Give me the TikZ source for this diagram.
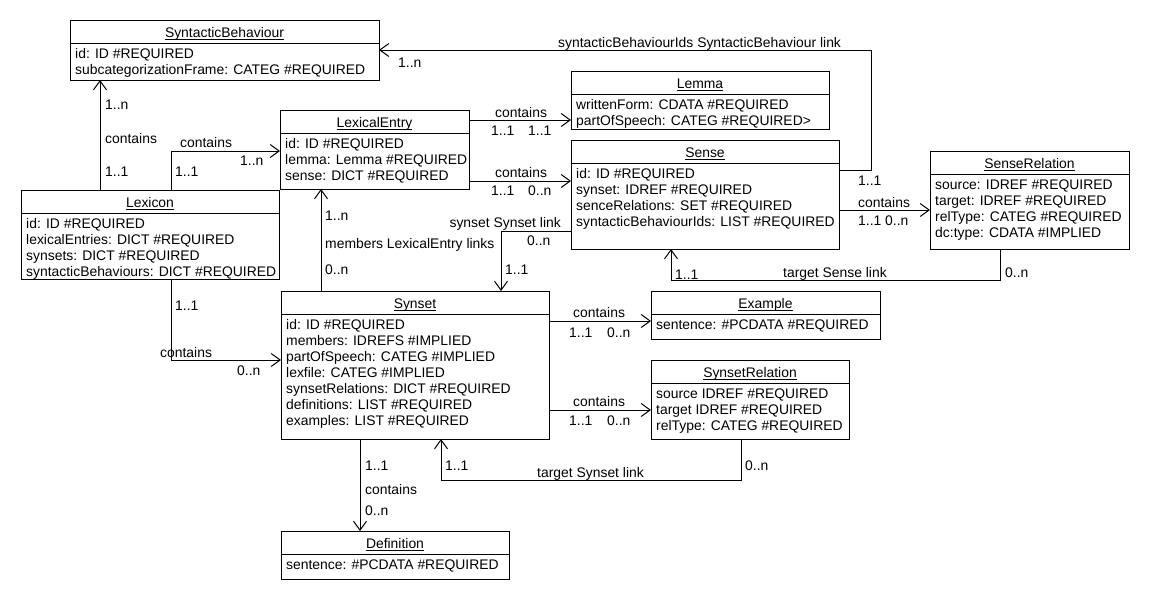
\documentclass[tikz,border=0pt]{standalone}
\usepackage{fontspec}
\setmainfont{Liberation Sans}
\usetikzlibrary{arrows.meta}
\newcommand{\umlul}[1]{\setbox0\hbox{#1}\rlap{\rule[-2.2pt]{\wd0}{0.9pt}}\box0}
\newcommand{\umlfont}{\fontsize{13.9}{16}\selectfont}
\newcommand{\umlclass}[7]{%
  \node[classbox, minimum width={#4-#2}, minimum height={#5-#3}, anchor=north west] (#1) at (#2,#3) {};
  \node[titletext] (#1-title) at ({(#2+#4)/2},{#3+17.5}) {\umlul{#6}};
  \draw[sepline] ({#2},{#3+23}) -- ({#4},{#3+23});
  \node[attrtext] (#1-attrs) at ({#2+5},{#3+26.8}) {\strut #7};
}
\begin{document}
\begin{tikzpicture}[x=1pt,y=-1pt,
  classbox/.style={draw, line width=1pt, fill=white, inner sep=0, outer sep=0},
  titletext/.style={anchor=base, inner sep=0, font=\umlfont},
  attrtext/.style={anchor=north west, inner sep=0, align=left, font=\umlfont},
  sepline/.style={line width=1pt},
  assoc/.style={line width=1pt, -{Straight Barb[length=9pt,width=13pt,line width=1pt]}},
  lbl/.style={anchor=base west, inner sep=0, font=\umlfont},
  lble/.style={anchor=base east, inner sep=0, font=\umlfont}]
\fill[white] (0,0) rectangle (1150,600);
\useasboundingbox (0,0) rectangle (1150,600);

% classes
\umlclass{sb}{70}{20}{379}{80}{SyntacticBehaviour}{id: ID \#REQUIRED\\subcategorizationFrame: CATEG \#REQUIRED}
\umlclass{lexicon}{21}{190}{279}{279}{Lexicon}{id: ID \#REQUIRED\\lexicalEntries: DICT \#REQUIRED\\synsets: DICT \#REQUIRED\\syntacticBehaviours: DICT \#REQUIRED}
\umlclass{le}{280}{110}{469}{189}{LexicalEntry}{id: ID \#REQUIRED\\lemma: Lemma \#REQUIRED\\sense: DICT \#REQUIRED}
\umlclass{lemma}{571}{71}{829}{129}{Lemma}{writtenForm: CDATA \#REQUIRED\\partOfSpeech: CATEG \#REQUIRED>}
\umlclass{sense}{571}{140}{839}{249}{Sense}{id: ID \#REQUIRED\\synset: IDREF \#REQUIRED\\senceRelations: SET \#REQUIRED\\syntacticBehaviourIds: LIST \#REQUIRED}
\umlclass{senserel}{930}{151}{1129}{249}{SenseRelation}{source: IDREF \#REQUIRED\\target: IDREF \#REQUIRED\\relType: CATEG \#REQUIRED\\dc:type: CDATA \#IMPLIED}
\umlclass{synset}{281}{291}{549}{439}{Synset}{id: ID \#REQUIRED\\members: IDREFS \#IMPLIED\\partOfSpeech: CATEG \#IMPLIED\\lexfile: CATEG \#IMPLIED\\synsetRelations: DICT \#REQUIRED\\definitions: LIST \#REQUIRED\\examples: LIST \#REQUIRED}
\umlclass{example}{651}{291}{880}{339}{Example}{sentence: \#PCDATA \#REQUIRED}
\umlclass{synrel}{651}{360}{849}{439}{SynsetRelation}{source IDREF \#REQUIRED\\target IDREF \#REQUIRED\\relType: CATEG \#REQUIRED}
\umlclass{def}{281}{531}{509}{579}{Definition}{sentence: \#PCDATA \#REQUIRED}

% connectors
\draw[assoc] (lexicon.north -| 100,0) -- (sb.south -| 100,0);
\draw[assoc] (lexicon.north -| 171,0) |- (le.west |- 0,151);
\draw[assoc] (le.east |- 0,120) -- (lemma.west |- 0,120);
\draw[assoc] (le.east |- 0,181) -- (sense.west |- 0,181);
\draw[assoc] (sense.west |- 0,231) -| (synset.north -| 501,0);
\draw[assoc] (synset.north -| 321,0) -- (le.south -| 321,0);
\draw[assoc] (sense.east |- 0,170) -| (871,50) -- (sb.east |- 0,50);
\draw[assoc] (sense.east |- 0,210) -- (senserel.west |- 0,210);
\draw[assoc] (senserel.south -| 1000,0) |- (671,280) -- (sense.south -| 671,0);
\draw[assoc] (lexicon.south -| 171,0) |- (synset.west |- 0,360);
\draw[assoc] (synset.east |- 0,321) -- (example.west |- 0,321);
\draw[assoc] (synset.east |- 0,410) -- (synrel.west |- 0,410);
\draw[assoc] (synrel.south -| 741,0) |- (441,480) -- (synset.south -| 441,0);
\draw[assoc] (synset.south -| 360,0) -- (def.north -| 360,0);

% labels
\node[lbl] (a1) at (105,109) {1..n};
\node[lbl] (a2) at (105,143) {contains};
\node[lbl] (a3) at (105,176) {1..1};
\node[lbl] (b1) at (180,147) {contains};
\node[lbl] (b2) at (240,165) {1..n};
\node[lbl] (b3) at (175,176) {1..1};
\node[lbl] (c1) at (495,117) {contains};
\node[lbl] (c2) at (491,135) {1..1};
\node[lbl] (c3) at (528,135) {1..1};
\node[lbl] (d1) at (495,177) {contains};
\node[lbl] (d2) at (491,195) {1..1};
\node[lbl] (d3) at (528,195) {0..n};
\node[lble] (e1) at (561,227) {synset Synset link};
\node[lbl] (e2) at (527,245) {0..n};
\node[lbl] (e3) at (505,274) {1..1};
\node[lbl] (f1) at (325,220) {1..n};
\node[lbl] (f2) at (325,248) {members LexicalEntry links};
\node[lbl] (f3) at (325,274) {0..n};
\node[lbl] (g1) at (558,47) {syntacticBehaviourIds SyntacticBehaviour link};
\node[lbl] (g2) at (398,67) {1..n};
\node[lbl] (g3) at (858,185) {1..1};
\node[lbl] (h1) at (858,207) {contains};
\node[lbl] (h2) at (858,225) {1..1 0..n};
\node[lbl] (i1) at (1005,277) {0..n};
\node[lbl] (i2) at (783,277) {target Sense link};
\node[lbl] (i3) at (675,279) {1..1};
\node[lbl] (j1) at (175,310) {1..1};
\node[lbl] (j2) at (160,357) {contains};
\node[lbl] (j3) at (237,375) {0..n};
\node[lbl] (k1) at (573,317) {contains};
\node[lbl] (k2) at (569,337) {1..1};
\node[lbl] (k3) at (607,337) {0..n};
\node[lbl] (m1) at (573,406) {contains};
\node[lbl] (m2) at (569,425) {1..1};
\node[lbl] (m3) at (607,425) {0..n};
\node[lbl] (n1) at (445,470) {1..1};
\node[lbl] (n2) at (537,477) {target Synset link};
\node[lbl] (n3) at (745,470) {0..n};
\node[lbl] (o1) at (365,470) {1..1};
\node[lbl] (o2) at (365,494) {contains};
\node[lbl] (o3) at (365,515) {0..n};
\end{tikzpicture}
\end{document}
